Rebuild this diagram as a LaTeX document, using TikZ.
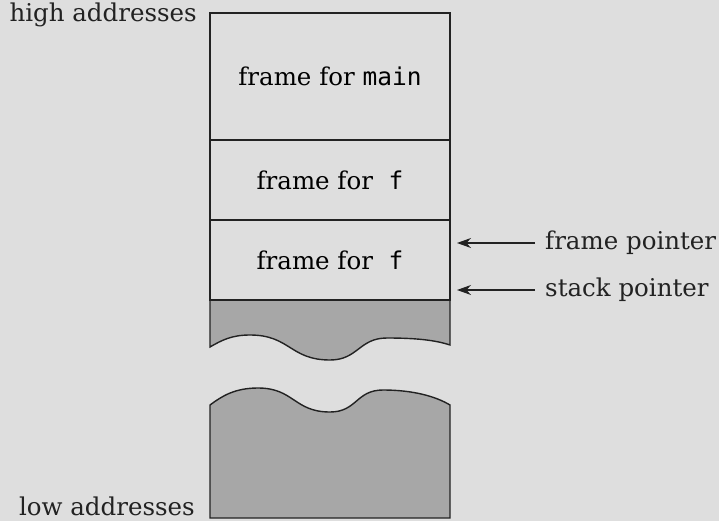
\documentclass[tikz,border=0pt]{standalone}
\usepackage{fontspec}
\setmainfont{DejaVu Serif}
\setmonofont{DejaVu Sans Mono}
\usetikzlibrary{positioning,arrows.meta}
\definecolor{page}{HTML}{DEDEDE}
\definecolor{used}{HTML}{A7A7A7}
\definecolor{ink}{HTML}{222222}

\tikzset{
  frm/.style={draw=ink, line width=1.8pt, minimum width=240pt, outer sep=0pt, inner sep=0pt},
  lbl/.style={text=ink, inner sep=0pt},
  ptr/.style={draw=ink, line width=1.2pt, -{Stealth[length=14pt,width=10pt]}}
}

\begin{document}
\begin{tikzpicture}[x=1pt, y=-1pt, font=\fontsize{24.5}{28}\selectfont]
  \fill[page] (0,0) rectangle (719,521);
  \useasboundingbox (0,0) rectangle (719,521);

  % the stack frames
  \node[frm, minimum height=127pt] (main) at (330,76.5) {frame for \texttt{main}};
  \node[frm, minimum height=80pt, below=0pt of main] (f1) {frame for \ \texttt{f}};
  \node[frm, minimum height=80pt, below=0pt of f1] (f2) {frame for \ \texttt{f}};

  % free space below the stack, cut by waves
  \coordinate (cut) at (210,347);
  \coordinate (gap) at (210,405);
  \coordinate (floor) at (450,518);
  \filldraw[fill=used, draw=ink, line width=1.4pt]
    (f2.south east) -- (f2.south west) -- (cut)
    .. controls (222,340) and (232,335) .. (250,335)
    .. controls (290,335) and (290,360) .. (330,360)
    .. controls (358,360) and (359,338) .. (387,338)
    .. controls (415,338) and (435,340) .. (450,345) -- cycle;
  \draw[ink, line width=1.8pt] (f2.south west) -- (f2.south east);
  \filldraw[fill=used, draw=ink, line width=1.4pt]
    (gap)
    .. controls (222,396) and (235,388) .. (258,388)
    .. controls (294,388) and (294,412) .. (330,412)
    .. controls (357,412) and (356,390) .. (383,390)
    .. controls (412,390) and (435,396) .. (450,405)
    -- (floor) -- (gap |- floor) -- cycle;

  % address labels
  \node[lbl, anchor=base east] (hi) at (197,22) {high addresses};
  \node[lbl, anchor=base east] (lo) at (195,515) {low addresses};

  % pointers into the current frame
  \coordinate (fpt) at (457,243);
  \coordinate (spt) at (457,290);
  \node[lbl, anchor=west] (fp) at (545,243) {frame pointer};
  \node[lbl, anchor=west] (sp) at (545,290) {stack pointer};
  \draw[ptr] ([xshift=-10pt]fp.west) -- (fpt);
  \draw[ptr] ([xshift=-10pt]sp.west) -- (spt);
\end{tikzpicture}
\end{document}
